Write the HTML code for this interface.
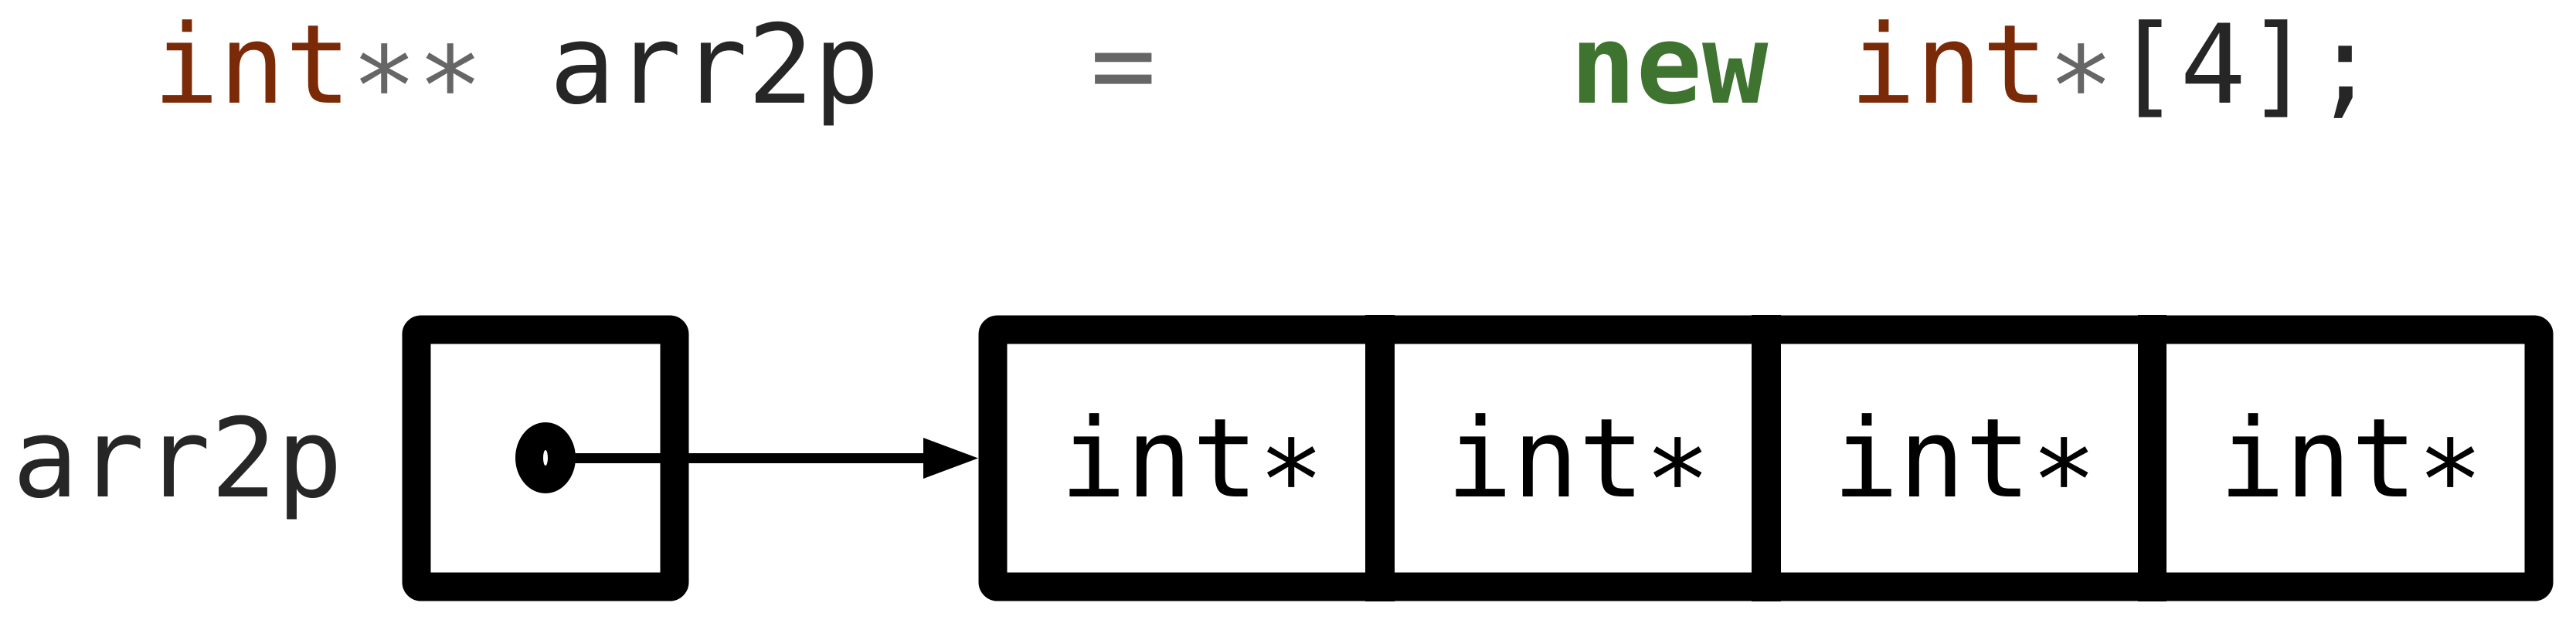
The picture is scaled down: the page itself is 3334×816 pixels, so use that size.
<!DOCTYPE html>
<html><head><meta charset="utf-8"><style>
html,body{margin:0;padding:0;background:#fff;}
svg{display:block;}
text{font-family:"DejaVu Sans Mono","Liberation Mono",monospace;font-size:142px;}
</style></head><body>
<svg width="3334" height="816" viewBox="0 0 3334 816" xmlns="http://www.w3.org/2000/svg">
<rect width="3334" height="816" fill="#fff"/>
<text x="198" y="133" xml:space="preserve"><tspan fill="#7b2a08">int</tspan><tspan fill="#666">∗∗</tspan><tspan fill="#262626"> arr2p</tspan></text>
<text x="1411" y="133" fill="#666">=</text>
<text x="2032" y="133" fill="#3f7430" font-weight="bold">new</text>
<text x="2394" y="133" xml:space="preserve"><tspan fill="#7b2a08">int</tspan><tspan fill="#666">∗</tspan><tspan fill="#262626">[4];</tspan></text>

<text x="16" y="643" fill="#262626">arr2p</text>

<rect x="539" y="427" width="334" height="333" rx="6" fill="none" stroke="#000" stroke-width="37"/>
<rect x="1285" y="427" width="2001" height="333" rx="6" fill="none" stroke="#000" stroke-width="37"/>
<rect x="1767" y="408" width="38" height="371" fill="#000"/>
<rect x="2267" y="408" width="38" height="371" fill="#000"/>
<rect x="2767" y="408" width="37" height="371" fill="#000"/>

<line x1="706" y1="593.5" x2="1200" y2="593.5" stroke="#000" stroke-width="13"/>
<polygon points="1195,567 1266,593.5 1195,620" fill="#000"/>
<ellipse cx="706" cy="593" rx="39" ry="46" fill="#000"/>
<ellipse cx="706" cy="593" rx="3" ry="10" fill="#fff"/>

<text x="1372" y="643" fill="#000">int∗</text>
<text x="1872" y="643" fill="#000">int∗</text>
<text x="2372" y="643" fill="#000">int∗</text>
<text x="2872" y="643" fill="#000">int∗</text>
</svg>
</body></html>
